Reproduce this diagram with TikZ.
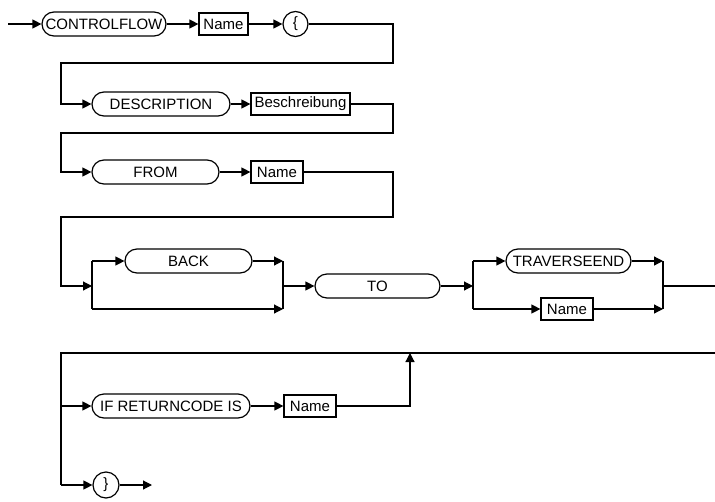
\documentclass[tikz,border=0pt]{standalone}
\usepackage{fontspec}
\setmainfont{Liberation Sans}
\usetikzlibrary{arrows.meta}
\begin{document}
\begin{tikzpicture}[x=1pt,y=-1pt,
  line width=1.2pt,
  font=\fontsize{15}{17}\selectfont,
  terminal/.style={draw,rectangle,rounded corners=12pt,minimum height=24pt,inner sep=0pt},
  nonterm/.style={draw,rectangle,minimum height=22pt,inner sep=0pt},
  roundsym/.style={draw,circle,minimum size=25pt,inner sep=0pt},
  arr/.style={-{Triangle[length=9pt,width=9pt]}}]
\useasboundingbox (0,0) rectangle (715,501);
% nodes
\node[terminal,minimum width=124pt] (cf) at (104,24) {CONTROLFLOW};
\node[nonterm,minimum width=49pt] (n1) at (223.5,24) {Name};
\node[roundsym] (lb) at (295.5,24) {\{};
\node[terminal,minimum width=138pt] (desc) at (161,104) {DESCRIPTION};
\node[nonterm,minimum width=99pt] (besch) at (300.5,104) {Beschreibung};
\node[terminal,minimum width=127pt] (from) at (155.5,172) {FROM};
\node[nonterm,minimum width=52pt] (n2) at (277,172) {Name};
\node[terminal,minimum width=127pt] (back) at (188.5,261) {BACK};
\node[terminal,minimum width=125pt] (to) at (377.5,286) {TO};
\node[terminal,minimum width=125pt] (trav) at (568.5,261) {TRAVERSEEND};
\node[nonterm,minimum width=52pt] (n3) at (567,309) {Name};
\node[terminal,minimum width=158pt] (ifrc) at (171,406) {IF RETURNCODE IS};
\node[nonterm,minimum width=52pt] (n4) at (310,406) {Name};
\node[roundsym,minimum size=26pt] (rb) at (106,485) {\}};
% coordinates
\coordinate (start) at (8,24);
\coordinate (r1) at (393,24);
\coordinate (r1b) at (393,63);
\coordinate (l1) at (61,63);
\coordinate (l1b) at (61,104);
\coordinate (r2) at (393,104);
\coordinate (r2b) at (393,133);
\coordinate (l2) at (61,133);
\coordinate (l2b) at (61,172);
\coordinate (r3) at (393,172);
\coordinate (r3b) at (393,217);
\coordinate (l3) at (61,217);
\coordinate (l3b) at (61,286);
\coordinate (s1) at (92,286);
\coordinate (s1t) at (92,261);
\coordinate (s1b) at (92,309);
\coordinate (j1) at (283,286);
\coordinate (j1t) at (283,261);
\coordinate (j1b) at (283,309);
\coordinate (s2) at (473,286);
\coordinate (s2t) at (473,261);
\coordinate (s2b) at (473,309);
\coordinate (j2) at (663,286);
\coordinate (j2t) at (663,261);
\coordinate (j2b) at (663,309);
\coordinate (out1) at (715,286);
\coordinate (in2) at (715,353);
\coordinate (l4) at (61,353);
\coordinate (l4m) at (61,406);
\coordinate (l4b) at (61,485);
\coordinate (up) at (410,406);
\coordinate (upt) at (410,353);
\coordinate (end) at (152,485);
% connectors
\draw[arr] (start) -- (cf.west);
\draw[arr] (cf.east) -- (n1.west);
\draw[arr] (n1.east) -- (lb.west);
\draw[arr] (lb.east) -- (r1) -- (r1b) -- (l1) -- (l1b) -- (desc.west);
\draw[arr] (desc.east) -- (besch.west);
\draw[arr] (besch.east) -- (r2) -- (r2b) -- (l2) -- (l2b) -- (from.west);
\draw[arr] (from.east) -- (n2.west);
\draw[arr] (n2.east) -- (r3) -- (r3b) -- (l3) -- (l3b) -- (s1);
\draw (s1t) -- (s1b);
\draw[arr] (s1t) -- (back.west);
\draw[arr] (back.east) -- (j1t);
\draw[arr] (s1b) -- (j1b);
\draw (j1t) -- (j1b);
\draw[arr] (j1) -- (to.west);
\draw[arr] (to.east) -- (s2);
\draw (s2t) -- (s2b);
\draw[arr] (s2t) -- (trav.west);
\draw[arr] (s2b) -- (n3.west);
\draw[arr] (trav.east) -- (j2t);
\draw[arr] (n3.east) -- (j2b);
\draw (j2t) -- (j2b);
\draw (j2) -- (out1);
\draw (in2) -- (l4) -- (l4b);
\draw[arr] (l4m) -- (ifrc.west);
\draw[arr] (ifrc.east) -- (n4.west);
\draw[arr] (n4.east) -- (up) -- (upt);
\draw[arr] (l4b) -- (rb.west);
\draw[arr] (rb.east) -- (end);
\end{tikzpicture}
\end{document}
